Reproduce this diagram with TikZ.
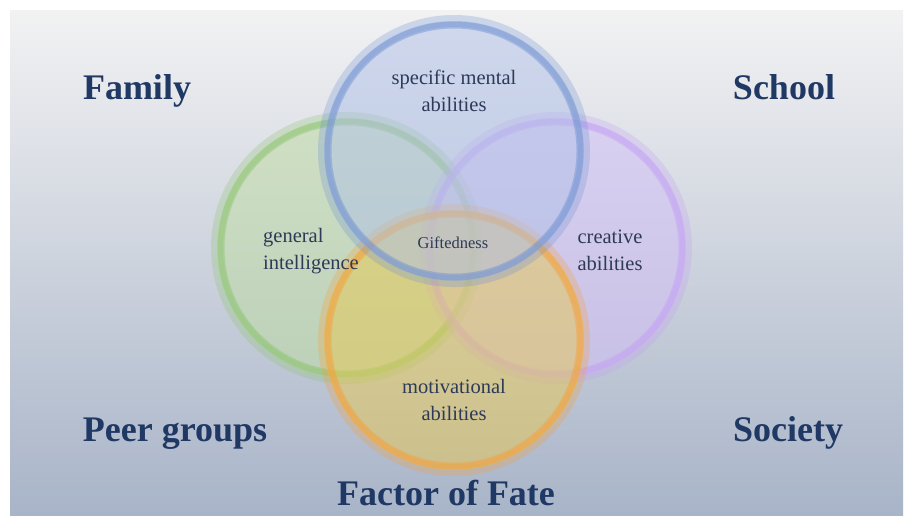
\documentclass[tikz,border=0pt]{standalone}
\usepackage{fontspec}
\setmainfont{Liberation Serif}
\definecolor{bgtop}{RGB}{242,242,243}
\definecolor{bgbot}{RGB}{168,180,200}
\definecolor{navy}{RGB}{31,56,100}
\definecolor{txt}{RGB}{45,58,88}
\definecolor{gring}{RGB}{140,196,110}
\definecolor{gfill}{RGB}{190,220,160}
\definecolor{bring}{RGB}{110,145,210}
\definecolor{bfill}{RGB}{175,192,232}
\definecolor{pring}{RGB}{196,160,245}
\definecolor{pfill}{RGB}{210,190,248}
\definecolor{oring}{RGB}{245,160,60}
\definecolor{ofill}{RGB}{232,200,80}
\tikzset{
  vennc/.style n args={2}{circle, inner sep=0pt, minimum size=260pt, line width=12pt,
     draw=#1, draw opacity=0.28, fill=#2, fill opacity=0.5},
  ringin/.style={line width=7pt, opacity=0.45},
  title/.style={text=navy, anchor=base, font=\fontsize{36}{42}\selectfont\bfseries},
  lbl/.style={text=txt, font=\fontsize{20.5}{27}\selectfont, align=center},
}
\begin{document}
\begin{tikzpicture}[x=1pt,y=-1pt]
\useasboundingbox (0,0) rectangle (905,515);
\fill[white] (0,0) rectangle (905,515);
\shade[top color=bgtop, bottom color=bgbot] (10,10) rectangle (903,515);

\node[vennc={gring}{gfill}] (green) at (347,248) {};
\draw[gring, ringin] (green.center) circle (126pt);
\node[vennc={pring}{pfill}] (purple) at (556,248) {};
\draw[pring, ringin] (purple.center) circle (126pt);
\node[vennc={oring}{ofill}] (orange) at (454,340) {};
\draw[oring, ringin] (orange.center) circle (126pt);
\node[vennc={bring}{bfill}] (blue) at (454,151) {};
\draw[bring, ringin] (blue.center) circle (126pt);

\node[lbl] (sma) at (454,91) {specific mental\\abilities};
\node[lbl, align=left] (gi) at (311,251) {general\\intelligence};
\node[lbl] (ca) at (610,250) {creative\\abilities};
\node[lbl] (ma) at (454,400) {motivational\\abilities};
\node[text=txt, font=\fontsize{16.5}{18}\selectfont] (gift) at (453,243) {Giftedness};

\node[title] (family) at (137,99) {Family};
\node[title] (school) at (784,99) {School};
\node[title] (peer) at (175,441) {Peer groups};
\node[title] (society) at (788,441) {Society};
\node[title] (fate) at (446,505) {Factor of Fate};
\end{tikzpicture}
\end{document}
